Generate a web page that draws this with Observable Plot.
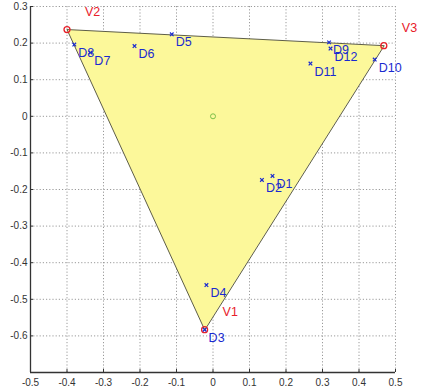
<!DOCTYPE html>
<html>
<head>
<meta charset="utf-8">
<script src="https://cdn.jsdelivr.net/npm/d3@7"></script>
<script src="https://cdn.jsdelivr.net/npm/@observablehq/plot@0.6"></script>
<style>
  html, body { margin: 0; padding: 0; background: #fff; }
  svg { display: block; }
</style>
</head>
<body>
<div id="chart"></div>
<script>
// Triangle vertices
const vertexNames = ["V1", "V2", "V3"];
const vertexX = [-0.023, -0.400, 0.468];
const vertexY = [-0.583, 0.237, 0.193];

// Data points inside the triangle
const pointNames = ["D1", "D2", "D3", "D4", "D5", "D6", "D7", "D8", "D9", "D10", "D11", "D12"];
const pointX = [0.163, 0.134, -0.023, -0.018, -0.113, -0.215, -0.336, -0.380, 0.318, 0.443, 0.267, 0.322];
const pointY = [-0.163, -0.174, -0.583, -0.461, 0.224, 0.192, 0.174, 0.196, 0.202, 0.155, 0.144, 0.185];

// Centre marker
const centre = [{x: 0, y: 0}];

// Tick values
const xTicks = [-0.5, -0.4, -0.3, -0.2, -0.1, 0, 0.1, 0.2, 0.3, 0.4, 0.5];
const yTicks = [0.3, 0.2, 0.1, 0, -0.1, -0.2, -0.3, -0.4, -0.5, -0.6, -0.7];
const yLabelled = [0.3, 0.2, 0.1, 0, -0.1, -0.2, -0.3, -0.4, -0.5, -0.6];

const vertices = vertexNames.map((name, i) => ({name, x: vertexX[i], y: vertexY[i]}));
const points = pointNames.map((name, i) => ({name, x: pointX[i], y: pointY[i]}));
const fmt = d => d === 0 ? "0" : String(+d.toFixed(1));
const blank = () => "";

const chart = Plot.plot({
  width: 421,
  height: 392,
  marginLeft: 30,
  marginRight: 26,
  marginTop: 6,
  marginBottom: 20,
  style: {fontFamily: "Liberation Sans, Arial, sans-serif", background: "#fff", overflow: "visible"},
  x: {domain: [-0.5, 0.5], ticks: xTicks, tickFormat: fmt},
  y: {domain: [-0.7, 0.3], ticks: yTicks, tickFormat: fmt},
  marks: [
    // dotted grid
    Plot.ruleX(xTicks, {stroke: "#9a9a9a", strokeDasharray: "1.2,2", strokeWidth: 1}),
    Plot.ruleY(yTicks, {stroke: "#9a9a9a", strokeDasharray: "1.2,2", strokeWidth: 1}),
    // triangle
    Plot.line(vertices, {
      x: "x", y: "y", curve: "linear-closed",
      fill: "#fcf89a", fillOpacity: 1, stroke: "#5e5e48", strokeWidth: 1
    }),
    // axis lines with inward ticks
    Plot.ruleX([-0.5], {stroke: "#333", strokeWidth: 1.3}),
    Plot.ruleY([-0.7], {stroke: "#333", strokeWidth: 1.3}),
    Plot.axisX({ticks: xTicks, tickFormat: blank, tickSize: -3, stroke: "#333", label: null}),
    Plot.axisY({ticks: yTicks, tickFormat: blank, tickSize: -3, stroke: "#333", label: null}),
    Plot.axisX({ticks: xTicks, tickFormat: fmt, tickSize: 0, tickPadding: 6, fontSize: 10, fill: "#333", label: null}),
    Plot.axisY({ticks: yLabelled, tickFormat: fmt, tickSize: 0, tickPadding: 3, fontSize: 10, fill: "#333", label: null}),
    // centre
    Plot.dot(centre, {x: "x", y: "y", r: 2.5, stroke: "#7cc04a", fill: "none", strokeWidth: 1}),
    // vertices
    Plot.dot(vertices, {x: "x", y: "y", r: 3, stroke: "#e8202a", fill: "none", strokeWidth: 1.3}),
    Plot.text(vertices, {x: "x", y: "y", text: "name", dx: 18, dy: -18, textAnchor: "start", fill: "#e8202a", fontSize: 12.5}),
    // data points
    Plot.dot(points, {x: "x", y: "y", symbol: "times", r: 1.8, stroke: "#1a2ad0", strokeWidth: 1.2}),
    Plot.text(points, {x: "x", y: "y", text: "name", dx: 4, dy: 8, textAnchor: "start", fill: "#1a2ad0", fontSize: 12.5})
  ]
});

document.getElementById("chart").appendChild(chart);
</script>
</body>
</html>
